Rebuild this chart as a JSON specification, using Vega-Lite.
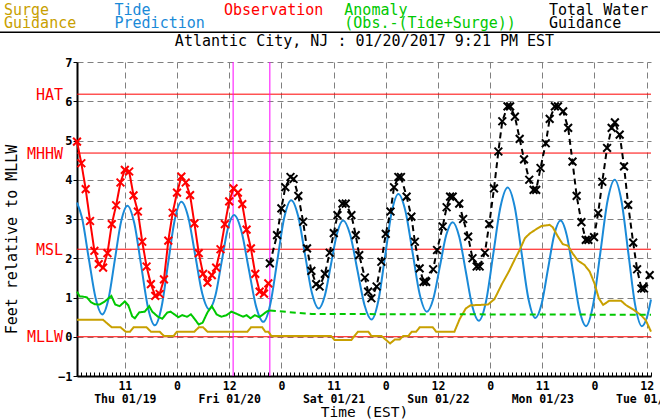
{
  "$schema": "https://vega.github.io/schema/vega-lite/v6.json",
  "width": 574,
  "height": 314,
  "autosize": {"type": "none"},
  "padding": {"left": 77, "top": 62, "right": 9, "bottom": 44},
  "background": "white",
  "datasets": {
    "levels": [
      {"level": "HAT", "feet": 6.18},
      {"level": "MHHW", "feet": 4.68},
      {"level": "MSL", "feet": 2.23},
      {"level": "MLLW", "feet": 0}
    ],
    "marks": [{"hour": 35.9}, {"hour": 44.35}],
    "series": [
      {"hour": 0, "feet": 0.43, "series": "Surge Guidance", "kind": "solid"},
      {"hour": 6, "feet": 0.43, "series": "Surge Guidance", "kind": "solid"},
      {"hour": 8, "feet": 0.24, "series": "Surge Guidance", "kind": "solid"},
      {"hour": 10, "feet": 0.24, "series": "Surge Guidance", "kind": "solid"},
      {"hour": 11.2, "feet": 0.13, "series": "Surge Guidance", "kind": "solid"},
      {"hour": 12.2, "feet": 0.13, "series": "Surge Guidance", "kind": "solid"},
      {"hour": 13, "feet": 0.24, "series": "Surge Guidance", "kind": "solid"},
      {"hour": 16, "feet": 0.24, "series": "Surge Guidance", "kind": "solid"},
      {"hour": 17, "feet": 0.13, "series": "Surge Guidance", "kind": "solid"},
      {"hour": 19, "feet": 0.13, "series": "Surge Guidance", "kind": "solid"},
      {"hour": 20, "feet": 0.02, "series": "Surge Guidance", "kind": "solid"},
      {"hour": 22.2, "feet": 0.02, "series": "Surge Guidance", "kind": "solid"},
      {"hour": 23, "feet": 0.13, "series": "Surge Guidance", "kind": "solid"},
      {"hour": 27, "feet": 0.13, "series": "Surge Guidance", "kind": "solid"},
      {"hour": 28, "feet": 0.24, "series": "Surge Guidance", "kind": "solid"},
      {"hour": 29, "feet": 0.24, "series": "Surge Guidance", "kind": "solid"},
      {"hour": 30, "feet": 0.13, "series": "Surge Guidance", "kind": "solid"},
      {"hour": 39.2, "feet": 0.13, "series": "Surge Guidance", "kind": "solid"},
      {"hour": 40, "feet": 0.24, "series": "Surge Guidance", "kind": "solid"},
      {"hour": 42.6, "feet": 0.24, "series": "Surge Guidance", "kind": "solid"},
      {"hour": 43.3, "feet": 0.13, "series": "Surge Guidance", "kind": "solid"},
      {"hour": 44, "feet": 0.13, "series": "Surge Guidance", "kind": "solid"},
      {"hour": 44.7, "feet": 0.02, "series": "Surge Guidance", "kind": "solid"},
      {"hour": 58.4, "feet": 0.02, "series": "Surge Guidance", "kind": "solid"},
      {"hour": 59.2, "feet": -0.08, "series": "Surge Guidance", "kind": "solid"},
      {"hour": 63.1, "feet": -0.08, "series": "Surge Guidance", "kind": "solid"},
      {"hour": 64.6, "feet": 0.13, "series": "Surge Guidance", "kind": "solid"},
      {"hour": 67, "feet": 0.13, "series": "Surge Guidance", "kind": "solid"},
      {"hour": 67.7, "feet": 0.02, "series": "Surge Guidance", "kind": "solid"},
      {"hour": 70, "feet": 0.02, "series": "Surge Guidance", "kind": "solid"},
      {"hour": 72, "feet": -0.17, "series": "Surge Guidance", "kind": "solid"},
      {"hour": 73.1, "feet": -0.07, "series": "Surge Guidance", "kind": "solid"},
      {"hour": 74.2, "feet": -0.07, "series": "Surge Guidance", "kind": "solid"},
      {"hour": 75, "feet": 0.02, "series": "Surge Guidance", "kind": "solid"},
      {"hour": 76.2, "feet": 0.02, "series": "Surge Guidance", "kind": "solid"},
      {"hour": 77, "feet": 0.13, "series": "Surge Guidance", "kind": "solid"},
      {"hour": 78, "feet": 0.13, "series": "Surge Guidance", "kind": "solid"},
      {"hour": 78.8, "feet": 0.24, "series": "Surge Guidance", "kind": "solid"},
      {"hour": 81.8, "feet": 0.24, "series": "Surge Guidance", "kind": "solid"},
      {"hour": 82.6, "feet": 0.13, "series": "Surge Guidance", "kind": "solid"},
      {"hour": 86.8, "feet": 0.13, "series": "Surge Guidance", "kind": "solid"},
      {"hour": 88, "feet": 0.45, "series": "Surge Guidance", "kind": "solid"},
      {"hour": 89.4, "feet": 0.72, "series": "Surge Guidance", "kind": "solid"},
      {"hour": 90.5, "feet": 0.8, "series": "Surge Guidance", "kind": "solid"},
      {"hour": 94.5, "feet": 0.82, "series": "Surge Guidance", "kind": "solid"},
      {"hour": 96, "feet": 0.96, "series": "Surge Guidance", "kind": "solid"},
      {"hour": 97.8, "feet": 1.36, "series": "Surge Guidance", "kind": "solid"},
      {"hour": 99.3, "feet": 1.66, "series": "Surge Guidance", "kind": "solid"},
      {"hour": 100.8, "feet": 2.0, "series": "Surge Guidance", "kind": "solid"},
      {"hour": 101.8, "feet": 2.21, "series": "Surge Guidance", "kind": "solid"},
      {"hour": 103, "feet": 2.51, "series": "Surge Guidance", "kind": "solid"},
      {"hour": 104.1, "feet": 2.63, "series": "Surge Guidance", "kind": "solid"},
      {"hour": 105.6, "feet": 2.74, "series": "Surge Guidance", "kind": "solid"},
      {"hour": 106.8, "feet": 2.82, "series": "Surge Guidance", "kind": "solid"},
      {"hour": 108.7, "feet": 2.85, "series": "Surge Guidance", "kind": "solid"},
      {"hour": 109.4, "feet": 2.79, "series": "Surge Guidance", "kind": "solid"},
      {"hour": 110.6, "feet": 2.55, "series": "Surge Guidance", "kind": "solid"},
      {"hour": 111.7, "feet": 2.36, "series": "Surge Guidance", "kind": "solid"},
      {"hour": 112.9, "feet": 2.32, "series": "Surge Guidance", "kind": "solid"},
      {"hour": 114, "feet": 2.12, "series": "Surge Guidance", "kind": "solid"},
      {"hour": 115.2, "feet": 1.94, "series": "Surge Guidance", "kind": "solid"},
      {"hour": 116.7, "feet": 1.83, "series": "Surge Guidance", "kind": "solid"},
      {"hour": 117.9, "feet": 1.66, "series": "Surge Guidance", "kind": "solid"},
      {"hour": 119, "feet": 1.36, "series": "Surge Guidance", "kind": "solid"},
      {"hour": 120, "feet": 0.98, "series": "Surge Guidance", "kind": "solid"},
      {"hour": 121, "feet": 0.81, "series": "Surge Guidance", "kind": "solid"},
      {"hour": 122.4, "feet": 0.92, "series": "Surge Guidance", "kind": "solid"},
      {"hour": 125.1, "feet": 0.92, "series": "Surge Guidance", "kind": "solid"},
      {"hour": 126.2, "feet": 0.81, "series": "Surge Guidance", "kind": "solid"},
      {"hour": 128.1, "feet": 0.68, "series": "Surge Guidance", "kind": "solid"},
      {"hour": 129.7, "feet": 0.55, "series": "Surge Guidance", "kind": "solid"},
      {"hour": 130.8, "feet": 0.42, "series": "Surge Guidance", "kind": "solid"},
      {"hour": 132, "feet": 0.13, "series": "Surge Guidance", "kind": "solid"},

      {"hour": 0, "feet": 1.15, "series": "Anomaly (Obs.-(Tide+Surge))", "kind": "solid"},
      {"hour": 0.6, "feet": 1.03, "series": "Anomaly (Obs.-(Tide+Surge))", "kind": "solid"},
      {"hour": 1.5, "feet": 1.02, "series": "Anomaly (Obs.-(Tide+Surge))", "kind": "solid"},
      {"hour": 2.3, "feet": 1.0, "series": "Anomaly (Obs.-(Tide+Surge))", "kind": "solid"},
      {"hour": 3.2, "feet": 0.88, "series": "Anomaly (Obs.-(Tide+Surge))", "kind": "solid"},
      {"hour": 4.1, "feet": 0.83, "series": "Anomaly (Obs.-(Tide+Surge))", "kind": "solid"},
      {"hour": 5.2, "feet": 0.82, "series": "Anomaly (Obs.-(Tide+Surge))", "kind": "solid"},
      {"hour": 6.4, "feet": 0.9, "series": "Anomaly (Obs.-(Tide+Surge))", "kind": "solid"},
      {"hour": 7.9, "feet": 1.04, "series": "Anomaly (Obs.-(Tide+Surge))", "kind": "solid"},
      {"hour": 8.8, "feet": 0.82, "series": "Anomaly (Obs.-(Tide+Surge))", "kind": "solid"},
      {"hour": 9.8, "feet": 0.78, "series": "Anomaly (Obs.-(Tide+Surge))", "kind": "solid"},
      {"hour": 11, "feet": 0.9, "series": "Anomaly (Obs.-(Tide+Surge))", "kind": "solid"},
      {"hour": 11.8, "feet": 0.8, "series": "Anomaly (Obs.-(Tide+Surge))", "kind": "solid"},
      {"hour": 12.7, "feet": 0.52, "series": "Anomaly (Obs.-(Tide+Surge))", "kind": "solid"},
      {"hour": 13.3, "feet": 0.47, "series": "Anomaly (Obs.-(Tide+Surge))", "kind": "solid"},
      {"hour": 14.3, "feet": 0.62, "series": "Anomaly (Obs.-(Tide+Surge))", "kind": "solid"},
      {"hour": 15.6, "feet": 0.64, "series": "Anomaly (Obs.-(Tide+Surge))", "kind": "solid"},
      {"hour": 16.6, "feet": 0.78, "series": "Anomaly (Obs.-(Tide+Surge))", "kind": "solid"},
      {"hour": 17.3, "feet": 0.64, "series": "Anomaly (Obs.-(Tide+Surge))", "kind": "solid"},
      {"hour": 18.6, "feet": 0.51, "series": "Anomaly (Obs.-(Tide+Surge))", "kind": "solid"},
      {"hour": 19.6, "feet": 0.46, "series": "Anomaly (Obs.-(Tide+Surge))", "kind": "solid"},
      {"hour": 20.8, "feet": 0.62, "series": "Anomaly (Obs.-(Tide+Surge))", "kind": "solid"},
      {"hour": 21.5, "feet": 0.64, "series": "Anomaly (Obs.-(Tide+Surge))", "kind": "solid"},
      {"hour": 22.4, "feet": 0.57, "series": "Anomaly (Obs.-(Tide+Surge))", "kind": "solid"},
      {"hour": 23.3, "feet": 0.5, "series": "Anomaly (Obs.-(Tide+Surge))", "kind": "solid"},
      {"hour": 24.2, "feet": 0.55, "series": "Anomaly (Obs.-(Tide+Surge))", "kind": "solid"},
      {"hour": 25.3, "feet": 0.51, "series": "Anomaly (Obs.-(Tide+Surge))", "kind": "solid"},
      {"hour": 26.2, "feet": 0.57, "series": "Anomaly (Obs.-(Tide+Surge))", "kind": "solid"},
      {"hour": 27, "feet": 0.46, "series": "Anomaly (Obs.-(Tide+Surge))", "kind": "solid"},
      {"hour": 28, "feet": 0.31, "series": "Anomaly (Obs.-(Tide+Surge))", "kind": "solid"},
      {"hour": 28.9, "feet": 0.36, "series": "Anomaly (Obs.-(Tide+Surge))", "kind": "solid"},
      {"hour": 30, "feet": 0.62, "series": "Anomaly (Obs.-(Tide+Surge))", "kind": "solid"},
      {"hour": 31, "feet": 0.78, "series": "Anomaly (Obs.-(Tide+Surge))", "kind": "solid"},
      {"hour": 32.1, "feet": 0.57, "series": "Anomaly (Obs.-(Tide+Surge))", "kind": "solid"},
      {"hour": 33.2, "feet": 0.51, "series": "Anomaly (Obs.-(Tide+Surge))", "kind": "solid"},
      {"hour": 34.4, "feet": 0.55, "series": "Anomaly (Obs.-(Tide+Surge))", "kind": "solid"},
      {"hour": 35.5, "feet": 0.64, "series": "Anomaly (Obs.-(Tide+Surge))", "kind": "solid"},
      {"hour": 37, "feet": 0.57, "series": "Anomaly (Obs.-(Tide+Surge))", "kind": "solid"},
      {"hour": 38.2, "feet": 0.51, "series": "Anomaly (Obs.-(Tide+Surge))", "kind": "solid"},
      {"hour": 39, "feet": 0.55, "series": "Anomaly (Obs.-(Tide+Surge))", "kind": "solid"},
      {"hour": 39.9, "feet": 0.47, "series": "Anomaly (Obs.-(Tide+Surge))", "kind": "solid"},
      {"hour": 40.9, "feet": 0.55, "series": "Anomaly (Obs.-(Tide+Surge))", "kind": "solid"},
      {"hour": 41.9, "feet": 0.5, "series": "Anomaly (Obs.-(Tide+Surge))", "kind": "solid"},
      {"hour": 42.8, "feet": 0.57, "series": "Anomaly (Obs.-(Tide+Surge))", "kind": "solid"},
      {"hour": 43.6, "feet": 0.64, "series": "Anomaly (Obs.-(Tide+Surge))", "kind": "solid"},
      {"hour": 44.35, "feet": 0.67, "series": "Anomaly (Obs.-(Tide+Surge))", "kind": "solid"},
      {"hour": 44.35, "feet": 0.67, "series": "Anomaly (Obs.-(Tide+Surge))", "kind": "dashed"},
      {"hour": 54, "feet": 0.58, "series": "Anomaly (Obs.-(Tide+Surge))", "kind": "dashed"},
      {"hour": 132, "feet": 0.56, "series": "Anomaly (Obs.-(Tide+Surge))", "kind": "dashed"},

      {"hour": 44.35, "feet": 1.87, "series": "Total Water Guidance", "kind": "dashed"},
      {"hour": 46, "feet": 2.59, "series": "Total Water Guidance", "kind": "dashed"},
      {"hour": 47, "feet": 3.27, "series": "Total Water Guidance", "kind": "dashed"},
      {"hour": 47.9, "feet": 3.81, "series": "Total Water Guidance", "kind": "dashed"},
      {"hour": 49.1, "feet": 4.07, "series": "Total Water Guidance", "kind": "dashed"},
      {"hour": 49.8, "feet": 4.02, "series": "Total Water Guidance", "kind": "dashed"},
      {"hour": 50.9, "feet": 3.59, "series": "Total Water Guidance", "kind": "dashed"},
      {"hour": 52, "feet": 2.93, "series": "Total Water Guidance", "kind": "dashed"},
      {"hour": 52.9, "feet": 2.25, "series": "Total Water Guidance", "kind": "dashed"},
      {"hour": 53.9, "feet": 1.68, "series": "Total Water Guidance", "kind": "dashed"},
      {"hour": 55, "feet": 1.34, "series": "Total Water Guidance", "kind": "dashed"},
      {"hour": 55.8, "feet": 1.28, "series": "Total Water Guidance", "kind": "dashed"},
      {"hour": 57, "feet": 1.6, "series": "Total Water Guidance", "kind": "dashed"},
      {"hour": 58.1, "feet": 2.14, "series": "Total Water Guidance", "kind": "dashed"},
      {"hour": 59.05, "feet": 2.64, "series": "Total Water Guidance", "kind": "dashed"},
      {"hour": 59.9, "feet": 3.1, "series": "Total Water Guidance", "kind": "dashed"},
      {"hour": 61.05, "feet": 3.39, "series": "Total Water Guidance", "kind": "dashed"},
      {"hour": 61.8, "feet": 3.39, "series": "Total Water Guidance", "kind": "dashed"},
      {"hour": 63.1, "feet": 3.1, "series": "Total Water Guidance", "kind": "dashed"},
      {"hour": 64.1, "feet": 2.59, "series": "Total Water Guidance", "kind": "dashed"},
      {"hour": 64.9, "feet": 2.08, "series": "Total Water Guidance", "kind": "dashed"},
      {"hour": 66.2, "feet": 1.51, "series": "Total Water Guidance", "kind": "dashed"},
      {"hour": 66.95, "feet": 1.15, "series": "Total Water Guidance", "kind": "dashed"},
      {"hour": 67.7, "feet": 0.98, "series": "Total Water Guidance", "kind": "dashed"},
      {"hour": 68.9, "feet": 1.28, "series": "Total Water Guidance", "kind": "dashed"},
      {"hour": 70, "feet": 1.91, "series": "Total Water Guidance", "kind": "dashed"},
      {"hour": 71, "feet": 2.62, "series": "Total Water Guidance", "kind": "dashed"},
      {"hour": 72.1, "feet": 3.19, "series": "Total Water Guidance", "kind": "dashed"},
      {"hour": 72.9, "feet": 3.81, "series": "Total Water Guidance", "kind": "dashed"},
      {"hour": 73.9, "feet": 4.07, "series": "Total Water Guidance", "kind": "dashed"},
      {"hour": 74.5, "feet": 4.07, "series": "Total Water Guidance", "kind": "dashed"},
      {"hour": 75.8, "feet": 3.57, "series": "Total Water Guidance", "kind": "dashed"},
      {"hour": 76.9, "feet": 3.06, "series": "Total Water Guidance", "kind": "dashed"},
      {"hour": 77.7, "feet": 2.42, "series": "Total Water Guidance", "kind": "dashed"},
      {"hour": 78.8, "feet": 1.74, "series": "Total Water Guidance", "kind": "dashed"},
      {"hour": 79.7, "feet": 1.4, "series": "Total Water Guidance", "kind": "dashed"},
      {"hour": 80.3, "feet": 1.4, "series": "Total Water Guidance", "kind": "dashed"},
      {"hour": 81.9, "feet": 1.72, "series": "Total Water Guidance", "kind": "dashed"},
      {"hour": 82.8, "feet": 2.21, "series": "Total Water Guidance", "kind": "dashed"},
      {"hour": 84.1, "feet": 2.81, "series": "Total Water Guidance", "kind": "dashed"},
      {"hour": 85, "feet": 3.3, "series": "Total Water Guidance", "kind": "dashed"},
      {"hour": 85.8, "feet": 3.57, "series": "Total Water Guidance", "kind": "dashed"},
      {"hour": 86.4, "feet": 3.57, "series": "Total Water Guidance", "kind": "dashed"},
      {"hour": 87.9, "feet": 3.39, "series": "Total Water Guidance", "kind": "dashed"},
      {"hour": 88.8, "feet": 3.0, "series": "Total Water Guidance", "kind": "dashed"},
      {"hour": 89.95, "feet": 2.55, "series": "Total Water Guidance", "kind": "dashed"},
      {"hour": 90.95, "feet": 2.0, "series": "Total Water Guidance", "kind": "dashed"},
      {"hour": 91.9, "feet": 1.79, "series": "Total Water Guidance", "kind": "dashed"},
      {"hour": 92.6, "feet": 1.79, "series": "Total Water Guidance", "kind": "dashed"},
      {"hour": 93.8, "feet": 2.14, "series": "Total Water Guidance", "kind": "dashed"},
      {"hour": 94.8, "feet": 2.87, "series": "Total Water Guidance", "kind": "dashed"},
      {"hour": 95.9, "feet": 3.78, "series": "Total Water Guidance", "kind": "dashed"},
      {"hour": 96.9, "feet": 4.72, "series": "Total Water Guidance", "kind": "dashed"},
      {"hour": 97.8, "feet": 5.49, "series": "Total Water Guidance", "kind": "dashed"},
      {"hour": 99, "feet": 5.87, "series": "Total Water Guidance", "kind": "dashed"},
      {"hour": 99.6, "feet": 5.87, "series": "Total Water Guidance", "kind": "dashed"},
      {"hour": 100.7, "feet": 5.61, "series": "Total Water Guidance", "kind": "dashed"},
      {"hour": 101.8, "feet": 5.04, "series": "Total Water Guidance", "kind": "dashed"},
      {"hour": 102.8, "feet": 4.52, "series": "Total Water Guidance", "kind": "dashed"},
      {"hour": 104, "feet": 4.0, "series": "Total Water Guidance", "kind": "dashed"},
      {"hour": 105, "feet": 3.74, "series": "Total Water Guidance", "kind": "dashed"},
      {"hour": 105.6, "feet": 3.74, "series": "Total Water Guidance", "kind": "dashed"},
      {"hour": 106.6, "feet": 4.3, "series": "Total Water Guidance", "kind": "dashed"},
      {"hour": 107.8, "feet": 4.93, "series": "Total Water Guidance", "kind": "dashed"},
      {"hour": 108.7, "feet": 5.55, "series": "Total Water Guidance", "kind": "dashed"},
      {"hour": 109.9, "feet": 5.87, "series": "Total Water Guidance", "kind": "dashed"},
      {"hour": 110.6, "feet": 5.87, "series": "Total Water Guidance", "kind": "dashed"},
      {"hour": 111.8, "feet": 5.74, "series": "Total Water Guidance", "kind": "dashed"},
      {"hour": 112.95, "feet": 5.32, "series": "Total Water Guidance", "kind": "dashed"},
      {"hour": 113.95, "feet": 4.46, "series": "Total Water Guidance", "kind": "dashed"},
      {"hour": 114.9, "feet": 3.59, "series": "Total Water Guidance", "kind": "dashed"},
      {"hour": 116, "feet": 2.92, "series": "Total Water Guidance", "kind": "dashed"},
      {"hour": 117, "feet": 2.47, "series": "Total Water Guidance", "kind": "dashed"},
      {"hour": 117.6, "feet": 2.47, "series": "Total Water Guidance", "kind": "dashed"},
      {"hour": 118.9, "feet": 2.54, "series": "Total Water Guidance", "kind": "dashed"},
      {"hour": 119.85, "feet": 3.15, "series": "Total Water Guidance", "kind": "dashed"},
      {"hour": 120.8, "feet": 3.95, "series": "Total Water Guidance", "kind": "dashed"},
      {"hour": 121.9, "feet": 4.81, "series": "Total Water Guidance", "kind": "dashed"},
      {"hour": 122.95, "feet": 5.32, "series": "Total Water Guidance", "kind": "dashed"},
      {"hour": 123.7, "feet": 5.46, "series": "Total Water Guidance", "kind": "dashed"},
      {"hour": 124.8, "feet": 5.15, "series": "Total Water Guidance", "kind": "dashed"},
      {"hour": 125.8, "feet": 4.34, "series": "Total Water Guidance", "kind": "dashed"},
      {"hour": 126.75, "feet": 3.36, "series": "Total Water Guidance", "kind": "dashed"},
      {"hour": 127.9, "feet": 2.4, "series": "Total Water Guidance", "kind": "dashed"},
      {"hour": 128.8, "feet": 1.72, "series": "Total Water Guidance", "kind": "dashed"},
      {"hour": 129.8, "feet": 1.23, "series": "Total Water Guidance", "kind": "dashed"},
      {"hour": 130.4, "feet": 1.23, "series": "Total Water Guidance", "kind": "dashed"},
      {"hour": 131.7, "feet": 1.57, "series": "Total Water Guidance", "kind": "dashed"},

      {"hour": 0, "feet": 4.97, "series": "Observation", "kind": "solid"},
      {"hour": 1, "feet": 4.42, "series": "Observation", "kind": "solid"},
      {"hour": 2, "feet": 3.76, "series": "Observation", "kind": "solid"},
      {"hour": 3, "feet": 2.95, "series": "Observation", "kind": "solid"},
      {"hour": 4, "feet": 2.19, "series": "Observation", "kind": "solid"},
      {"hour": 5, "feet": 1.85, "series": "Observation", "kind": "solid"},
      {"hour": 6, "feet": 1.76, "series": "Observation", "kind": "solid"},
      {"hour": 7, "feet": 2.13, "series": "Observation", "kind": "solid"},
      {"hour": 8, "feet": 2.87, "series": "Observation", "kind": "solid"},
      {"hour": 9, "feet": 3.35, "series": "Observation", "kind": "solid"},
      {"hour": 10, "feet": 3.93, "series": "Observation", "kind": "solid"},
      {"hour": 11, "feet": 4.25, "series": "Observation", "kind": "solid"},
      {"hour": 12, "feet": 4.21, "series": "Observation", "kind": "solid"},
      {"hour": 13, "feet": 3.6, "series": "Observation", "kind": "solid"},
      {"hour": 14, "feet": 3.19, "series": "Observation", "kind": "solid"},
      {"hour": 15, "feet": 2.42, "series": "Observation", "kind": "solid"},
      {"hour": 16, "feet": 1.79, "series": "Observation", "kind": "solid"},
      {"hour": 17, "feet": 1.34, "series": "Observation", "kind": "solid"},
      {"hour": 18, "feet": 1.04, "series": "Observation", "kind": "solid"},
      {"hour": 19, "feet": 1.09, "series": "Observation", "kind": "solid"},
      {"hour": 20, "feet": 1.46, "series": "Observation", "kind": "solid"},
      {"hour": 21, "feet": 2.45, "series": "Observation", "kind": "solid"},
      {"hour": 22, "feet": 3.16, "series": "Observation", "kind": "solid"},
      {"hour": 23, "feet": 3.67, "series": "Observation", "kind": "solid"},
      {"hour": 24, "feet": 4.08, "series": "Observation", "kind": "solid"},
      {"hour": 25, "feet": 3.93, "series": "Observation", "kind": "solid"},
      {"hour": 26, "feet": 3.61, "series": "Observation", "kind": "solid"},
      {"hour": 27, "feet": 2.89, "series": "Observation", "kind": "solid"},
      {"hour": 28, "feet": 2.13, "series": "Observation", "kind": "solid"},
      {"hour": 29, "feet": 1.6, "series": "Observation", "kind": "solid"},
      {"hour": 30, "feet": 1.38, "series": "Observation", "kind": "solid"},
      {"hour": 31, "feet": 1.57, "series": "Observation", "kind": "solid"},
      {"hour": 32, "feet": 1.76, "series": "Observation", "kind": "solid"},
      {"hour": 33, "feet": 2.23, "series": "Observation", "kind": "solid"},
      {"hour": 34, "feet": 2.87, "series": "Observation", "kind": "solid"},
      {"hour": 35, "feet": 3.45, "series": "Observation", "kind": "solid"},
      {"hour": 36, "feet": 3.78, "series": "Observation", "kind": "solid"},
      {"hour": 37, "feet": 3.67, "series": "Observation", "kind": "solid"},
      {"hour": 38, "feet": 3.38, "series": "Observation", "kind": "solid"},
      {"hour": 39, "feet": 2.73, "series": "Observation", "kind": "solid"},
      {"hour": 40, "feet": 2.25, "series": "Observation", "kind": "solid"},
      {"hour": 41, "feet": 1.6, "series": "Observation", "kind": "solid"},
      {"hour": 42, "feet": 1.15, "series": "Observation", "kind": "solid"},
      {"hour": 43, "feet": 1.1, "series": "Observation", "kind": "solid"},
      {"hour": 44, "feet": 1.36, "series": "Observation", "kind": "solid"}
    ],
    "tide": [
      {"hour": 0, "feet": 3.42, "series": "Tide Prediction", "kind": "solid"},
      {"hour": 1.15, "feet": 3.03, "series": "Tide Prediction", "kind": "solid"},
      {"hour": 2.7, "feet": 2.0, "series": "Tide Prediction", "kind": "solid"},
      {"hour": 4.25, "feet": 1.0, "series": "Tide Prediction", "kind": "solid"},
      {"hour": 5.8, "feet": 0.57, "series": "Tide Prediction", "kind": "solid"},
      {"hour": 7.25, "feet": 0.97, "series": "Tide Prediction", "kind": "solid"},
      {"hour": 8.7, "feet": 1.96, "series": "Tide Prediction", "kind": "solid"},
      {"hour": 10.15, "feet": 2.94, "series": "Tide Prediction", "kind": "solid"},
      {"hour": 11.6, "feet": 3.34, "series": "Tide Prediction", "kind": "solid"},
      {"hour": 13.18, "feet": 2.89, "series": "Tide Prediction", "kind": "solid"},
      {"hour": 14.75, "feet": 1.82, "series": "Tide Prediction", "kind": "solid"},
      {"hour": 16.33, "feet": 0.74, "series": "Tide Prediction", "kind": "solid"},
      {"hour": 17.9, "feet": 0.29, "series": "Tide Prediction", "kind": "solid"},
      {"hour": 19.43, "feet": 0.75, "series": "Tide Prediction", "kind": "solid"},
      {"hour": 20.95, "feet": 1.87, "series": "Tide Prediction", "kind": "solid"},
      {"hour": 22.48, "feet": 2.98, "series": "Tide Prediction", "kind": "solid"},
      {"hour": 24.0, "feet": 3.44, "series": "Tide Prediction", "kind": "solid"},
      {"hour": 25.6, "feet": 3.04, "series": "Tide Prediction", "kind": "solid"},
      {"hour": 27.2, "feet": 2.07, "series": "Tide Prediction", "kind": "solid"},
      {"hour": 28.8, "feet": 1.1, "series": "Tide Prediction", "kind": "solid"},
      {"hour": 30.4, "feet": 0.7, "series": "Tide Prediction", "kind": "solid"},
      {"hour": 31.83, "feet": 1.05, "series": "Tide Prediction", "kind": "solid"},
      {"hour": 33.25, "feet": 1.9, "series": "Tide Prediction", "kind": "solid"},
      {"hour": 34.68, "feet": 2.75, "series": "Tide Prediction", "kind": "solid"},
      {"hour": 36.1, "feet": 3.1, "series": "Tide Prediction", "kind": "solid"},
      {"hour": 37.79, "feet": 2.7, "series": "Tide Prediction", "kind": "solid"},
      {"hour": 39.48, "feet": 1.74, "series": "Tide Prediction", "kind": "solid"},
      {"hour": 41.16, "feet": 0.78, "series": "Tide Prediction", "kind": "solid"},
      {"hour": 42.85, "feet": 0.38, "series": "Tide Prediction", "kind": "solid"},
      {"hour": 44.45, "feet": 0.83, "series": "Tide Prediction", "kind": "solid"},
      {"hour": 46.05, "feet": 1.93, "series": "Tide Prediction", "kind": "solid"},
      {"hour": 47.65, "feet": 3.03, "series": "Tide Prediction", "kind": "solid"},
      {"hour": 49.25, "feet": 3.48, "series": "Tide Prediction", "kind": "solid"},
      {"hour": 50.84, "feet": 3.08, "series": "Tide Prediction", "kind": "solid"},
      {"hour": 52.43, "feet": 2.1, "series": "Tide Prediction", "kind": "solid"},
      {"hour": 54.01, "feet": 1.12, "series": "Tide Prediction", "kind": "solid"},
      {"hour": 55.6, "feet": 0.72, "series": "Tide Prediction", "kind": "solid"},
      {"hour": 57.0, "feet": 1.05, "series": "Tide Prediction", "kind": "solid"},
      {"hour": 58.4, "feet": 1.84, "series": "Tide Prediction", "kind": "solid"},
      {"hour": 59.8, "feet": 2.63, "series": "Tide Prediction", "kind": "solid"},
      {"hour": 61.2, "feet": 2.96, "series": "Tide Prediction", "kind": "solid"},
      {"hour": 62.84, "feet": 2.59, "series": "Tide Prediction", "kind": "solid"},
      {"hour": 64.48, "feet": 1.7, "series": "Tide Prediction", "kind": "solid"},
      {"hour": 66.11, "feet": 0.81, "series": "Tide Prediction", "kind": "solid"},
      {"hour": 67.75, "feet": 0.44, "series": "Tide Prediction", "kind": "solid"},
      {"hour": 69.29, "feet": 0.91, "series": "Tide Prediction", "kind": "solid"},
      {"hour": 70.83, "feet": 2.04, "series": "Tide Prediction", "kind": "solid"},
      {"hour": 72.36, "feet": 3.17, "series": "Tide Prediction", "kind": "solid"},
      {"hour": 73.9, "feet": 3.64, "series": "Tide Prediction", "kind": "solid"},
      {"hour": 75.54, "feet": 3.2, "series": "Tide Prediction", "kind": "solid"},
      {"hour": 77.18, "feet": 2.14, "series": "Tide Prediction", "kind": "solid"},
      {"hour": 78.81, "feet": 1.08, "series": "Tide Prediction", "kind": "solid"},
      {"hour": 80.45, "feet": 0.64, "series": "Tide Prediction", "kind": "solid"},
      {"hour": 81.94, "feet": 0.97, "series": "Tide Prediction", "kind": "solid"},
      {"hour": 83.43, "feet": 1.78, "series": "Tide Prediction", "kind": "solid"},
      {"hour": 84.91, "feet": 2.59, "series": "Tide Prediction", "kind": "solid"},
      {"hour": 86.4, "feet": 2.92, "series": "Tide Prediction", "kind": "solid"},
      {"hour": 87.9, "feet": 2.55, "series": "Tide Prediction", "kind": "solid"},
      {"hour": 89.4, "feet": 1.67, "series": "Tide Prediction", "kind": "solid"},
      {"hour": 90.9, "feet": 0.78, "series": "Tide Prediction", "kind": "solid"},
      {"hour": 92.4, "feet": 0.41, "series": "Tide Prediction", "kind": "solid"},
      {"hour": 94.06, "feet": 0.9, "series": "Tide Prediction", "kind": "solid"},
      {"hour": 95.73, "feet": 2.11, "series": "Tide Prediction", "kind": "solid"},
      {"hour": 97.39, "feet": 3.31, "series": "Tide Prediction", "kind": "solid"},
      {"hour": 99.05, "feet": 3.8, "series": "Tide Prediction", "kind": "solid"},
      {"hour": 100.64, "feet": 3.32, "series": "Tide Prediction", "kind": "solid"},
      {"hour": 102.23, "feet": 2.14, "series": "Tide Prediction", "kind": "solid"},
      {"hour": 103.81, "feet": 0.97, "series": "Tide Prediction", "kind": "solid"},
      {"hour": 105.4, "feet": 0.48, "series": "Tide Prediction", "kind": "solid"},
      {"hour": 106.85, "feet": 0.84, "series": "Tide Prediction", "kind": "solid"},
      {"hour": 108.3, "feet": 1.72, "series": "Tide Prediction", "kind": "solid"},
      {"hour": 109.75, "feet": 2.6, "series": "Tide Prediction", "kind": "solid"},
      {"hour": 111.2, "feet": 2.96, "series": "Tide Prediction", "kind": "solid"},
      {"hour": 112.66, "feet": 2.57, "series": "Tide Prediction", "kind": "solid"},
      {"hour": 114.13, "feet": 1.62, "series": "Tide Prediction", "kind": "solid"},
      {"hour": 115.59, "feet": 0.66, "series": "Tide Prediction", "kind": "solid"},
      {"hour": 117.05, "feet": 0.27, "series": "Tide Prediction", "kind": "solid"},
      {"hour": 118.7, "feet": 0.82, "series": "Tide Prediction", "kind": "solid"},
      {"hour": 120.35, "feet": 2.14, "series": "Tide Prediction", "kind": "solid"},
      {"hour": 122.0, "feet": 3.46, "series": "Tide Prediction", "kind": "solid"},
      {"hour": 123.65, "feet": 4.0, "series": "Tide Prediction", "kind": "solid"},
      {"hour": 125.21, "feet": 3.46, "series": "Tide Prediction", "kind": "solid"},
      {"hour": 126.78, "feet": 2.14, "series": "Tide Prediction", "kind": "solid"},
      {"hour": 128.34, "feet": 0.82, "series": "Tide Prediction", "kind": "solid"},
      {"hour": 129.9, "feet": 0.27, "series": "Tide Prediction", "kind": "solid"},
      {"hour": 131.0, "feet": 0.47, "series": "Tide Prediction", "kind": "solid"},
      {"hour": 132.0, "feet": 0.95, "series": "Tide Prediction", "kind": "solid"}
    ]
  },
  "resolve": {"axis": {"x": "independent", "y": "independent"}},
  "layer": [
    {
      "data": {"name": "levels"},
      "mark": {"type": "rule", "color": "#ff0000", "strokeWidth": 1},
      "encoding": {
        "y": {
          "field": "feet", "type": "quantitative",
          "scale": {"domain": [-1, 7], "nice": false, "zero": false},
          "axis": {
            "orient": "left", "title": null, "values": [0, 2.23, 4.68, 6.18],
            "labelExpr": "datum.value == 0 ? 'MLLW' : datum.value < 3 ? 'MSL' : datum.value < 5 ? 'MHHW' : 'HAT'",
            "labelColor": "#ff0000", "labelFont": "DejaVu Sans Mono", "labelFontSize": 15, "labelFontWeight": "normal",
            "labelPadding": 14.5, "ticks": false, "tickSize": 0, "domain": false, "grid": false, "labelOverlap": false, "labelBaseline": "middle"
          }
        }
      }
    },
    {
      "data": {"name": "marks"},
      "mark": {"type": "rule", "color": "#ff00ff", "strokeWidth": 1},
      "encoding": {
        "x": {
          "field": "hour", "type": "quantitative", "scale": {"domain": [0, 132], "nice": false, "zero": false},
          "axis": {
            "orient": "top", "title": "Atlantic City, NJ : 01/20/2017 9:21 PM EST",
            "titleFont": "DejaVu Sans Mono", "titleFontSize": 15, "titleFontWeight": "normal", "titleColor": "black", "titlePadding": 14,
            "labels": false, "ticks": false, "domain": false, "grid": false
          }
        }
      }
    },
    {
      "data": {"name": "tide"},
      "mark": {"type": "line", "strokeWidth": 2, "interpolate": "monotone"},
      "encoding": {
        "x": {"field": "hour", "type": "quantitative", "scale": {"domain": [0, 132], "nice": false, "zero": false}, "axis": null},
        "y": {"field": "feet", "type": "quantitative", "scale": {"domain": [-1, 7], "nice": false, "zero": false}, "axis": null},
        "color": {
          "field": "series", "type": "nominal",
          "scale": {"domain": ["Surge Guidance", "Tide Prediction", "Observation", "Anomaly (Obs.-(Tide+Surge))", "Total Water Guidance"], "range": ["#c8a000", "#1a8ad8", "#ff0000", "#00c800", "#000000"]},
          "legend": {
            "orient": "none", "legendX": -88, "legendY": -67, "direction": "horizontal", "columns": 5, "gridAlign": "none", "columnPadding": 4,
            "title": null, "padding": 0, "symbolSize": 0, "symbolStrokeWidth": 0, "symbolOpacity": 0, "labelOffset": 0,
            "labelFont": "DejaVu Sans Mono", "labelFontSize": 15, "labelBaseline": "top", "labelLineHeight": 13, "labelLimit": 400,
            "labelExpr": "datum.label == 'Surge Guidance' ? ['Surge', 'Guidance'] : datum.label == 'Tide Prediction' ? ['Tide', 'Prediction'] : datum.label == 'Anomaly (Obs.-(Tide+Surge))' ? ['Anomaly', '(Obs.-(Tide+Surge))'] : datum.label == 'Total Water Guidance' ? ['Total Water', 'Guidance'] : datum.label",
            "encode": {"labels": {"update": {
              "fill": {"scale": "color", "field": "value"},
              "lineHeight": {"value": 13},
              "dx": {"signal": "datum.value == 'Tide Prediction' ? 18.5 : datum.value == 'Anomaly (Obs.-(Tide+Surge))' ? 1.3 : datum.value == 'Total Water Guidance' ? 14 : 0"}
            }}}
          }
        }
      }
    },
    {
      "data": {"name": "series"},
      "mark": {"type": "line", "strokeWidth": 2},
      "encoding": {
        "x": {
          "field": "hour", "type": "quantitative",
          "scale": {"domain": [0, 132], "nice": false, "zero": false},
          "axis": {
            "orient": "bottom",
            "title": "Time (EST)", "titleFont": "DejaVu Sans Mono", "titleFontSize": 14.5, "titleFontWeight": "normal", "titleColor": "black", "titlePadding": 1,
            "tickCount": 132,
            "labelExpr": "(datum.value + 1) % 12 != 0 ? '' : datum.value == 11 ? ['11', 'Thu 01/19'] : datum.value == 35 ? ['12', 'Fri 01/20'] : datum.value == 59 ? ['11', 'Sat 01/21'] : datum.value == 83 ? ['12', 'Sun 01/22'] : datum.value == 107 ? ['11', 'Mon 01/23'] : datum.value == 131 ? ['12', 'Tue 01/24'] : '0'",
            "labelFont": "DejaVu Sans Mono", "labelFontSize": 11.5, "labelFontWeight": "bold", "labelColor": "black",
            "labelOverlap": false, "labelFlush": false, "labelBound": false, "labelBaseline": "top", "labelLineHeight": 13, "labelPadding": 8,
            "tickSize": -4, "tickColor": "black", "tickWidth": 1,
            "domainColor": "black", "domainWidth": 2,
            "grid": true, "gridColor": "#808080", "gridDash": [6, 4], "gridWidth": 1,
            "gridOpacity": {"condition": {"test": "(datum.value + 1) % 12 == 0", "value": 1}, "value": 0}
          }
        },
        "y": {
          "field": "feet", "type": "quantitative",
          "scale": {"domain": [-1, 7], "nice": false, "zero": false},
          "axis": {
            "orient": "left",
            "title": "Feet relative to MLLW", "titleFont": "DejaVu Sans Mono", "titleFontSize": 15, "titleFontWeight": "normal", "titleColor": "black", "titlePadding": 38, "titleY": 177,
            "values": [-1, 0, 1, 2, 3, 4, 5, 6, 7], "format": "d",
            "labelFont": "DejaVu Sans Mono", "labelFontSize": 12, "labelFontWeight": "bold", "labelColor": "black", "labelPadding": 1,
            "tickSize": 4, "tickColor": "black",
            "domainColor": "black", "domainWidth": 2,
            "grid": true, "gridColor": "#808080", "gridDash": [6, 4], "gridWidth": 1
          }
        },
        "color": {
          "field": "series", "type": "nominal",
          "scale": {"domain": ["Surge Guidance", "Tide Prediction", "Observation", "Anomaly (Obs.-(Tide+Surge))", "Total Water Guidance"], "range": ["#c8a000", "#1a8ad8", "#ff0000", "#00c800", "#000000"]},
          "legend": {
            "orient": "none", "legendX": -88, "legendY": -67, "direction": "horizontal", "columns": 5, "gridAlign": "none", "columnPadding": 4,
            "title": null, "padding": 0, "symbolSize": 0, "symbolStrokeWidth": 0, "symbolOpacity": 0, "labelOffset": 0,
            "labelFont": "DejaVu Sans Mono", "labelFontSize": 15, "labelBaseline": "top", "labelLineHeight": 13, "labelLimit": 400,
            "labelExpr": "datum.label == 'Surge Guidance' ? ['Surge', 'Guidance'] : datum.label == 'Tide Prediction' ? ['Tide', 'Prediction'] : datum.label == 'Anomaly (Obs.-(Tide+Surge))' ? ['Anomaly', '(Obs.-(Tide+Surge))'] : datum.label == 'Total Water Guidance' ? ['Total Water', 'Guidance'] : datum.label",
            "encode": {"labels": {"update": {
              "fill": {"scale": "color", "field": "value"},
              "lineHeight": {"value": 13},
              "dx": {"signal": "datum.value == 'Tide Prediction' ? 18.5 : datum.value == 'Anomaly (Obs.-(Tide+Surge))' ? 1.3 : datum.value == 'Total Water Guidance' ? 14 : 0"}
            }}}
          }
        },
        "strokeDash": {"field": "kind", "type": "nominal", "scale": {"domain": ["solid", "dashed"], "range": [[1, 0], [6, 4]]}, "legend": null}
      }
    },
    {
      "data": {"name": "series"},
      "transform": [{"filter": "datum.series == 'Observation' || datum.series == 'Total Water Guidance'"}],
      "mark": {"type": "point", "shape": "M-1,-1L1,1M-1,1L1,-1", "filled": false, "size": 60, "strokeWidth": 2, "opacity": 1},
      "encoding": {
        "x": {"field": "hour", "type": "quantitative", "scale": {"domain": [0, 132], "nice": false, "zero": false}, "axis": null},
        "y": {"field": "feet", "type": "quantitative", "scale": {"domain": [-1, 7], "nice": false, "zero": false}, "axis": null},
        "color": {
          "field": "series", "type": "nominal",
          "scale": {"domain": ["Surge Guidance", "Tide Prediction", "Observation", "Anomaly (Obs.-(Tide+Surge))", "Total Water Guidance"], "range": ["#c8a000", "#1a8ad8", "#ff0000", "#00c800", "#000000"]},
          "legend": {
            "orient": "none", "legendX": -88, "legendY": -67, "direction": "horizontal", "columns": 5, "gridAlign": "none", "columnPadding": 4,
            "title": null, "padding": 0, "symbolSize": 0, "symbolStrokeWidth": 0, "symbolOpacity": 0, "labelOffset": 0,
            "labelFont": "DejaVu Sans Mono", "labelFontSize": 15, "labelBaseline": "top", "labelLineHeight": 13, "labelLimit": 400,
            "labelExpr": "datum.label == 'Surge Guidance' ? ['Surge', 'Guidance'] : datum.label == 'Tide Prediction' ? ['Tide', 'Prediction'] : datum.label == 'Anomaly (Obs.-(Tide+Surge))' ? ['Anomaly', '(Obs.-(Tide+Surge))'] : datum.label == 'Total Water Guidance' ? ['Total Water', 'Guidance'] : datum.label",
            "encode": {"labels": {"update": {
              "fill": {"scale": "color", "field": "value"},
              "lineHeight": {"value": 13},
              "dx": {"signal": "datum.value == 'Tide Prediction' ? 18.5 : datum.value == 'Anomaly (Obs.-(Tide+Surge))' ? 1.3 : datum.value == 'Total Water Guidance' ? 14 : 0"}
            }}}
          }
        }
      }
    },
    {
      "data": {"values": [{}]},
      "mark": {"type": "rule", "color": "black", "strokeWidth": 1.5},
      "encoding": {
        "x": {"datum": -18, "type": "quantitative", "scale": {"domain": [0, 132], "nice": false, "zero": false}, "axis": null},
        "x2": {"datum": 135},
        "y": {"datum": 7.757, "type": "quantitative", "scale": {"domain": [-1, 7], "nice": false, "zero": false}, "axis": null}
      }
    }
  ],
  "config": {"view": {"stroke": null}}
}
